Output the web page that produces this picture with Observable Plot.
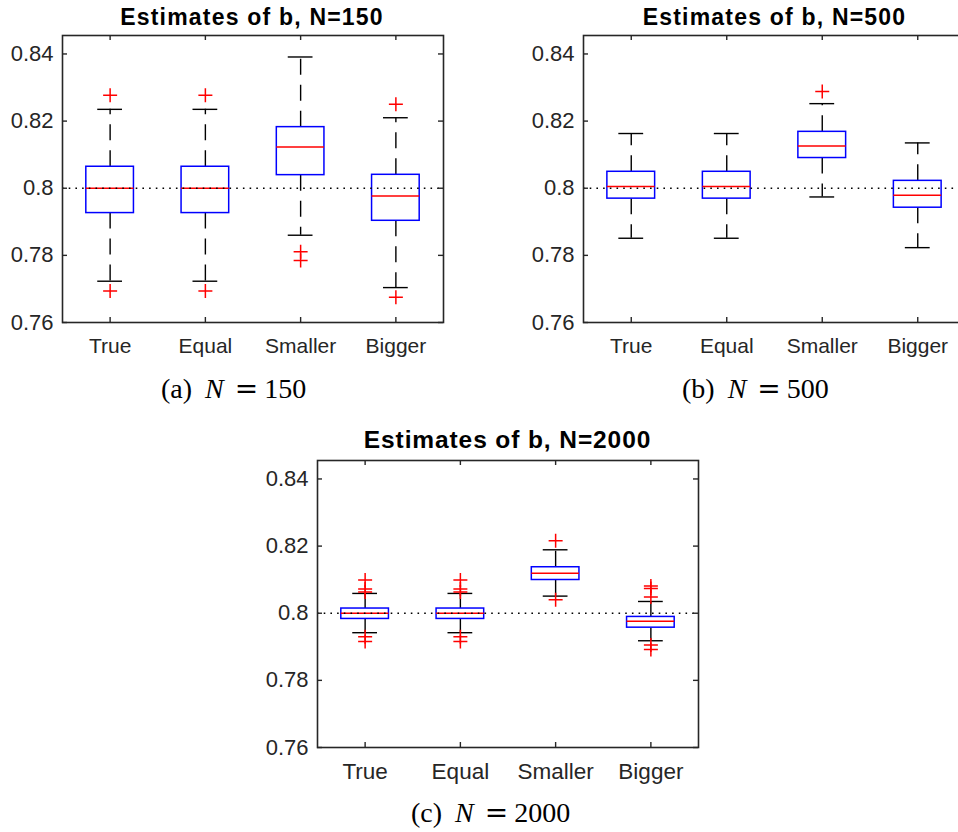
<!DOCTYPE html>
<html>
<head>
<meta charset="utf-8">
<script src="https://cdn.jsdelivr.net/npm/d3@7"></script>
<script src="https://cdn.jsdelivr.net/npm/@observablehq/plot@0.6"></script>
<style>
html, body { margin: 0; padding: 0; background: #fff; overflow: hidden; }
#root { position: relative; width: 958px; height: 832px; overflow: hidden; background: #fff; }
#root svg { position: absolute; }
.title { position: absolute; font-family: "Liberation Sans", Arial, Helvetica, sans-serif; font-weight: bold;
  color: #000; white-space: nowrap; line-height: 1; transform: translateX(-50%); }
.caption { position: absolute; font-family: "Liberation Serif", "Times New Roman", serif; font-size: 28px;
  color: #000; white-space: nowrap; line-height: 1; }
.caption span { display: inline-block; }
.caption .eq { font-family: "DejaVu Serif", serif; }
.caption .it { font-style: italic; }
</style>
</head>
<body>
<div id="root"></div>
<script>
// ---------- data ----------
const categories = ["True", "Equal", "Smaller", "Bigger"];
const yTicks = [0.76, 0.78, 0.80, 0.82, 0.84];
const yTickLabels = ["0.76", "0.78", "0.8", "0.82", "0.84"];
const yDomain = [0.76, 0.8455];
const referenceValue = 0.8;

const panelTitles = ["Estimates of b, N=150", "Estimates of b, N=500", "Estimates of b, N=2000"];
const captionLetters = ["(a)", "(b)", "(c)"];
const captionN = ["150", "500", "2000"];

// N = 150
const n150Lower  = [0.7723, 0.7723, 0.7860, 0.7704];
const n150Q1     = [0.7926, 0.7926, 0.8039, 0.7903];
const n150Median = [0.8000, 0.8000, 0.8123, 0.7977];
const n150Q3     = [0.8064, 0.8064, 0.8182, 0.8040];
const n150Upper  = [0.8235, 0.8235, 0.8391, 0.8210];
const n150Outliers = [[0.7694, 0.8277], [0.7694, 0.8277], [0.7785, 0.7811], [0.7675, 0.8250]];

// N = 500
const n500Lower  = [0.7851, 0.7851, 0.7974, 0.7823];
const n500Q1     = [0.7969, 0.7969, 0.8090, 0.7942];
const n500Median = [0.8005, 0.8005, 0.8126, 0.7979];
const n500Q3     = [0.8049, 0.8049, 0.8168, 0.8022];
const n500Upper  = [0.8163, 0.8163, 0.8252, 0.8135];
const n500Outliers = [[], [], [0.8288], []];

// N = 2000
const n2000Lower  = [0.7942, 0.7942, 0.8051, 0.7918];
const n2000Q1     = [0.7983, 0.7983, 0.8099, 0.7957];
const n2000Median = [0.8000, 0.8000, 0.8119, 0.7976];
const n2000Q3     = [0.8014, 0.8014, 0.8137, 0.7989];
const n2000Upper  = [0.8059, 0.8059, 0.8189, 0.8035];
const n2000Outliers = [
  [0.8099, 0.8072, 0.8063, 0.7930, 0.7916],
  [0.8099, 0.8072, 0.8063, 0.7930, 0.7916],
  [0.8216, 0.8040],
  [0.8081, 0.8074, 0.8048, 0.7905, 0.7892]
];

// ---------- drawing ----------
const thinPlus = {
  draw(context, size) {
    const r = Math.sqrt(size / Math.PI);
    context.moveTo(-r, 0); context.lineTo(r, 0);
    context.moveTo(0, -r); context.lineTo(0, r);
  }
};

const labelOf = new Map(yTicks.map((t, i) => [t, yTickLabels[i]]));

function panel(s, frameW, frameH, catFont) {
  const ml = 62, mt = 35, mr = 12, mb = 50;
  const boxHalf = 0.25, capHalf = 0.13;
  const idx = categories.map((_, i) => i);
  const xs = idx.map(i => i + 1);
  const outRows = s.outliers.flatMap((vals, i) => vals.map(v => ({x: i + 1, v})));
  const axisColor = "#262626";
  const wStyle = {stroke: "#000", strokeWidth: 1.4};
  return Plot.plot({
    width: ml + frameW + mr,
    height: mt + frameH + mb,
    marginLeft: ml, marginTop: mt, marginRight: mr, marginBottom: mb,
    x: {domain: [0.5, 4.5]},
    y: {domain: yDomain},
    style: {fontFamily: '"Liberation Sans", Arial, Helvetica, sans-serif', fontSize: "21px",
            color: axisColor, background: "transparent", maxWidth: "none", overflow: "visible"},
    marks: [
      // whiskers (dashed, starting at the box edge)
      Plot.ruleX(idx, {x: i => i + 1, y1: i => s.q3[i], y2: i => s.upper[i], ...wStyle, strokeDasharray: "16,10"}),
      Plot.ruleX(idx, {x: i => i + 1, y1: i => s.q1[i], y2: i => s.lower[i], ...wStyle, strokeDasharray: "16,10"}),
      // whisker caps
      Plot.ruleY(idx, {y: i => s.upper[i], x1: i => i + 1 - capHalf, x2: i => i + 1 + capHalf, ...wStyle}),
      Plot.ruleY(idx, {y: i => s.lower[i], x1: i => i + 1 - capHalf, x2: i => i + 1 + capHalf, ...wStyle}),
      // boxes
      Plot.rect(idx, {x1: i => i + 1 - boxHalf, x2: i => i + 1 + boxHalf, y1: i => s.q1[i], y2: i => s.q3[i],
                      fill: "#fff", stroke: "#0000ff", strokeWidth: 1.5}),
      // medians
      Plot.ruleY(idx, {y: i => s.median[i], x1: i => i + 1 - boxHalf, x2: i => i + 1 + boxHalf,
                       stroke: "#ff0000", strokeWidth: 1.4}),
      // reference line
      Plot.ruleY([referenceValue], {stroke: "#000", strokeWidth: 1.6, strokeDasharray: "1.6,5.1"}),
      // outliers
      Plot.dot(outRows, {x: "x", y: "v", r: 7, symbol: thinPlus, fill: "none", stroke: "#ff0000", strokeWidth: 1.5}),
      // inward ticks
      Plot.ruleY(yTicks, {y: d => d, insetRight: frameW - 5, stroke: axisColor, strokeWidth: 1.4}),
      Plot.ruleY(yTicks, {y: d => d, insetLeft: frameW - 5, stroke: axisColor, strokeWidth: 1.4}),
      Plot.ruleX(xs, {x: d => d, insetTop: frameH - 5, stroke: axisColor, strokeWidth: 1.4}),
      Plot.ruleX(xs, {x: d => d, insetBottom: frameH - 5, stroke: axisColor, strokeWidth: 1.4}),
      Plot.frame({stroke: axisColor, strokeWidth: 1.6}),
      // axis labels
      Plot.axisY(yTicks, {tickSize: 0, tickPadding: 9, label: null, fontSize: 22,
                          tickFormat: d => labelOf.get(d)}),
      Plot.axisX(xs, {tickSize: 0, tickPadding: 16, label: null, fontSize: catFont,
                      tickFormat: d => categories[d - 1]})
    ]
  });
}

const root = document.getElementById("root");

const sets = [
  {lower: n150Lower, q1: n150Q1, median: n150Median, q3: n150Q3, upper: n150Upper, outliers: n150Outliers},
  {lower: n500Lower, q1: n500Q1, median: n500Median, q3: n500Q3, upper: n500Upper, outliers: n500Outliers},
  {lower: n2000Lower, q1: n2000Q1, median: n2000Median, q3: n2000Q3, upper: n2000Upper, outliers: n2000Outliers}
];

const layout = [
  {left: 0,   top: 0,   fw: 381, fh: 287, cat: 21,
   title: {cx: 252, top: 5.5, fs: 23, ls: 1.2},
   cap: {left: 161, top: 374.5, gaps: [13, 11, 6]}},
  {left: 521, top: 0,   fw: 382, fh: 287, cat: 21,
   title: {cx: 774.5, top: 5.5, fs: 23, ls: 1.2},
   cap: {left: 682, top: 374.5, gaps: [13, 11, 6]}},
  {left: 255, top: 425, fw: 381, fh: 287, cat: 22.5,
   title: {cx: 507.5, top: 427.5, fs: 24.5, ls: 0.9},
   cap: {left: 411, top: 799.3, gaps: [13, 11, 6]}}
];

layout.forEach((L, k) => {
  const svg = panel(sets[k], L.fw, L.fh, L.cat);
  svg.style.left = L.left + "px";
  svg.style.top = L.top + "px";
  root.appendChild(svg);

  const t = document.createElement("div");
  t.className = "title";
  t.textContent = panelTitles[k];
  t.style.left = L.title.cx + "px";
  t.style.top = L.title.top + "px";
  t.style.fontSize = L.title.fs + "px";
  t.style.letterSpacing = L.title.ls + "px";
  root.appendChild(t);

  const c = document.createElement("div");
  c.className = "caption";
  c.style.left = L.cap.left + "px";
  c.style.top = L.cap.top + "px";
  const parts = [
    {text: captionLetters[k], cls: "", gap: 0},
    {text: "N", cls: "it", gap: L.cap.gaps[0]},
    {text: "=", cls: "eq", gap: L.cap.gaps[1]},
    {text: captionN[k], cls: "", gap: L.cap.gaps[2]}
  ];
  parts.forEach(p => {
    const s = document.createElement("span");
    s.textContent = p.text;
    if (p.cls) s.className = p.cls;
    s.style.marginLeft = p.gap + "px";
    c.appendChild(s);
  });
  root.appendChild(c);
});
</script>
</body>
</html>
